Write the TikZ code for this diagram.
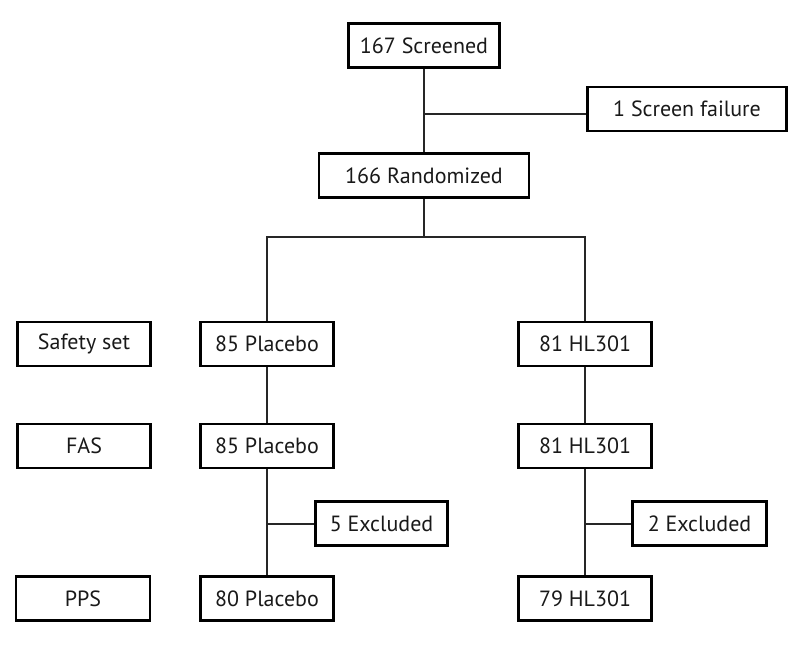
\documentclass[tikz,border=0pt]{standalone}
\usepackage{fontspec}
\setmainfont{PT Sans}
\begin{document}
\begin{tikzpicture}[x=1pt,y=-1pt,
  box/.style={draw, line width=2.2pt, rectangle, inner sep=0pt, minimum height=44pt, font=\fontsize{22}{26}\selectfont, text=black!90},
  conn/.style={line width=2pt, draw=black!85}]
\useasboundingbox (0,0) rectangle (810,650);
\node[box, minimum width=151pt] (scr) at (424,45.5) {167 Screened};
\node[box, minimum width=199pt] (fail) at (687,109) {1 Screen failure};
\node[box, minimum width=210pt] (rand) at (424,175.5) {166 Randomized};
\node[box, minimum width=133pt] (ss) at (84,344) {Safety set};
\node[box, minimum width=133pt] (p1) at (267,344) {85 Placebo};
\node[box, minimum width=133pt] (h1) at (585,344) {81 HL301};
\node[box, minimum width=133pt] (fas) at (84,446) {FAS};
\node[box, minimum width=133pt] (p2) at (267,446) {85 Placebo};
\node[box, minimum width=133pt] (h2) at (585,446) {81 HL301};
\node[box, minimum width=132pt] (e5) at (381.5,523.5) {5 Excluded};
\node[box, minimum width=134pt] (e2) at (699.5,523.5) {2 Excluded};
\node[box, minimum width=134pt] (pps) at (83,598.5) {PPS};
\node[box, minimum width=133pt] (p3) at (267,598.5) {80 Placebo};
\node[box, minimum width=133pt] (h3) at (585,598.5) {79 HL301};
\coordinate (b1) at (424,114);
\coordinate (j) at (424,237);
\draw[conn] (scr.south) -- (rand.north);
\draw[conn] (b1) -- (fail.west |- b1);
\draw[conn] (rand.south) -- (j);
\draw[conn] (p1.north) |- (j) -| (h1.north);
\draw[conn] (p1.south) -- (p2.north);
\draw[conn] (h1.south) -- (h2.north);
\draw[conn] (p2.south) -- (p3.north);
\draw[conn] (h2.south) -- (h3.north);
\draw[conn] (p2.south |- e5.west) -- (e5.west);
\draw[conn] (h2.south |- e2.west) -- (e2.west);
\end{tikzpicture}
\end{document}
